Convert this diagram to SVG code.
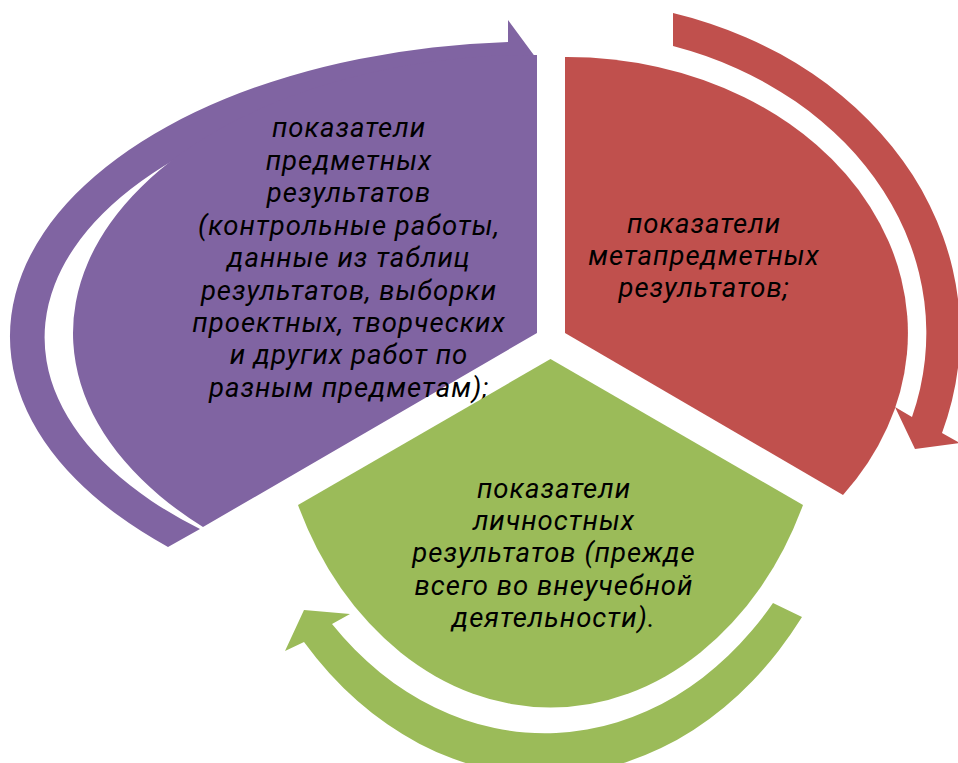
<svg xmlns="http://www.w3.org/2000/svg" width="958" height="763" viewBox="0 0 958 763">
<style>
.t{font-family:Roboto,"Open Sans","Liberation Sans",sans-serif;font-style:italic;font-size:27.5px;letter-spacing:1px;fill:#000;text-anchor:middle}
.pu{fill:#8064A2}
.rd{fill:#C0504D}
.gr{fill:#9BBB59}
</style>
<rect width="958" height="763" fill="#fff"/>
<g id="connectors">
<path id="arrow-purple" class="pu" d="M168,547 A528,295 0 0 1 508,42 L508,20 L536,58 L508,96 L508,75 A494,263 0 0 0 200,529 Z"/>
<path id="arrow-red" class="rd" d="M673,13 A395,333 0 0 1 942,433 L960,443 L915,449 L895,407 L912,417 A362,301 0 0 0 673,46 Z"/>
<path id="arrow-green" class="gr" d="M802,617 A328,416 0 0 1 304,642 L285,651 L304,610 L350,614 L332,624 A301,374 0 0 0 773,603 Z"/>
</g>
<g id="node-subject">
<path class="pu" d="M537,333 L537,55 A458,278 0 0 0 203,527 Z"/>
<text class="t"><tspan x="349" y="137">показатели</tspan><tspan x="349" y="170">предметных</tspan><tspan x="349" y="202">результатов</tspan><tspan x="349" y="235">(контрольные работы,</tspan><tspan x="349" y="267">данные из таблиц</tspan><tspan x="349" y="300">результатов, выборки</tspan><tspan x="349" y="332">проектных, творческих</tspan><tspan x="349" y="364">и других работ по</tspan><tspan x="349" y="397">разным предметам);</tspan></text>
</g>
<g id="node-meta">
<path class="rd" d="M565,333 L565,57 A341,276 0 0 1 843,495 Z"/>
<text class="t"><tspan x="704" y="233">показатели</tspan><tspan x="704" y="265">метапредметных</tspan><tspan x="704" y="297">результатов;</tspan></text>
</g>
<g id="node-personal">
<path class="gr" d="M550.5,359 L803,505 A278,348 0 0 1 298,505 Z"/>
<text class="t"><tspan x="554" y="498">показатели</tspan><tspan x="554" y="530">личностных</tspan><tspan x="554" y="562">результатов (прежде</tspan><tspan x="554" y="595">всего во внеучебной</tspan><tspan x="554" y="627">деятельности).</tspan></text>
</g>
</svg>
